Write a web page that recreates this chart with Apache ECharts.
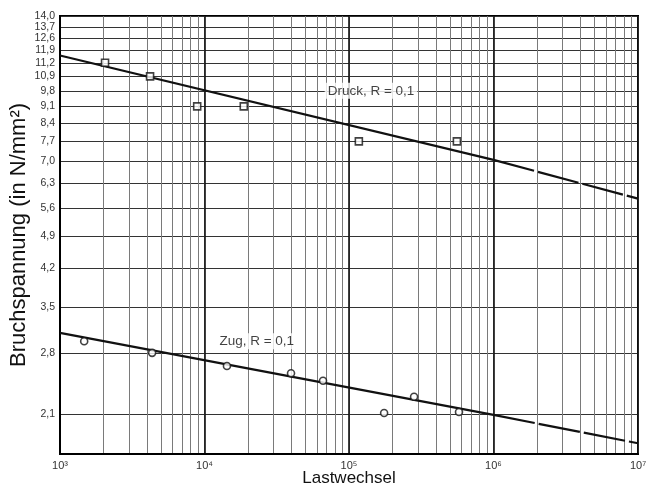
<!DOCTYPE html>
<html><head><meta charset="utf-8">
<script src="https://cdn.jsdelivr.net/npm/echarts@6/dist/echarts.min.js"></script>
<style>html,body{margin:0;padding:0;background:#fff}#c{width:648px;height:487px}</style>
</head><body><div id="c"></div>
<script>
// ---- data ----
const yTickValues = [2.1, 2.8, 3.5, 4.2, 4.9, 5.6, 6.3, 7.0, 7.7, 8.4, 9.1, 9.8, 10.5, 11.2, 11.9, 12.6, 13.3, 14.0];
const yTickLabels = ['2,1', '2,8', '3,5', '4,2', '4,9', '5,6', '6,3', '7,0', '7,7', '8,4', '9,1', '9,8', '10,9', '11,2', '11,9', '12,6', '13,7', '14,0'];
const xDecades = [1e3, 1e4, 1e5, 1e6, 1e7];
const xDecadeLabels = ['10³', '10⁴', '10⁵', '10⁶', '10⁷'];
const xMinorMultipliers = [1, 2, 3, 4, 5, 6, 7, 8, 9];

const druckN = [2050, 4200, 8900, 18700, 117000, 558000];
const druckS = [11.2, 10.5, 9.1, 9.1, 7.7, 7.7];
const zugN = [1470, 4340, 14300, 39700, 66100, 175000, 282000, 577000];
const zugS = [2.97, 2.81, 2.64, 2.55, 2.46, 2.11, 2.28, 2.12];

const druckFitN = [1e3, 1e6, 1e7];
const druckFitS = [11.6, 7.05, 5.86];
const zugFitN = [1e3, 1e6, 1e7];
const zugFitS = [3.09, 2.09, 1.826];

const druckLabel = 'Druck, R = 0,1';
const druckLabelPos = [1.42e5, 9.8];
const zugLabel = 'Zug, R = 0,1';
const zugLabelPos = [2.3e4, 2.97];

const xTitle = 'Lastwechsel';
const yTitle = 'Bruchspannung (in N/mm²)';
const xRange = [1e3, 1e7];
const yRange = [1.735, 14.0];

// ---- helpers (log10 coordinates) ----
const L = Math.log10;
const pts = (xs, ys) => xs.map((x, i) => [L(x), L(ys[i])]);
const minorTicks = [];
xDecades.slice(0, -1).forEach(d => xMinorMultipliers.forEach(m => minorTicks.push(L(m * d))));
minorTicks.push(L(xDecades[xDecades.length - 1]));
const yTicksLog = yTickValues.map(L);
const yEven = yTicksLog.filter((_, i) => i % 2 === 0);
const yOdd = yTicksLog.filter((_, i) => i % 2 === 1);
const fontFam = '"Liberation Sans", Arial, Helvetica, sans-serif';
const yFmt = v => yTickLabels[yTicksLog.findIndex(t => Math.abs(t - v) < 1e-6)] || '';
const yLabelStyle = {fontFamily: fontFam, fontSize: 10.5, color: '#333', margin: 5,
  showMinLabel: true, showMaxLabel: true, hideOverlap: false, formatter: yFmt};

const chart = echarts.init(document.getElementById('c'), null, {renderer: 'canvas'});
chart.setOption({
  animation: false,
  backgroundColor: '#fff',
  grid: {left: 60, right: 10, top: 16, bottom: 33, show: true, borderColor: '#000', borderWidth: 2,
    backgroundColor: 'transparent', containLabel: false, outerBoundsMode: 'none'},
  xAxis: [{
    type: 'value', min: L(xRange[0]), max: L(xRange[1]),
    name: xTitle, nameLocation: 'middle', nameGap: 16, nameMoveOverlap: false,
    nameTextStyle: {fontFamily: fontFam, fontSize: 17, color: '#111'},
    axisLine: {show: true, lineStyle: {color: '#000', width: 2}},
    axisTick: {show: false, customValues: minorTicks},
    axisLabel: {customValues: xDecades.map(L), fontFamily: fontFam, fontSize: 11, color: '#333', margin: 6,
      showMinLabel: true, showMaxLabel: true, hideOverlap: false,
      formatter: v => xDecadeLabels[xDecades.findIndex(d => Math.abs(L(d) - v) < 1e-6)] || ''},
    splitLine: {show: true, lineStyle: {color: '#7a7a7a', width: 1}}
  }, {
    type: 'value', min: L(xRange[0]), max: L(xRange[1]), position: 'top',
    axisLine: {show: false}, axisLabel: {show: false},
    axisTick: {show: false, customValues: xDecades.map(L)},
    splitLine: {show: true, lineStyle: {color: '#111', width: 1.6}}
  }],
  yAxis: [{
    type: 'value', min: L(yRange[0]), max: L(yRange[1]), position: 'left',
    name: yTitle, nameLocation: 'middle', nameGap: 30, nameMoveOverlap: false,
    nameTextStyle: {fontFamily: fontFam, fontSize: 22, color: '#111'},
    axisLine: {show: true, lineStyle: {color: '#000', width: 2}},
    axisTick: {show: false, customValues: yTicksLog},
    axisLabel: Object.assign({customValues: yEven}, yLabelStyle),
    splitLine: {show: true, lineStyle: {color: '#333', width: 1.2}}
  }, {
    type: 'value', min: L(yRange[0]), max: L(yRange[1]), position: 'left', offset: 0,
    axisLine: {show: false}, axisTick: {show: false},
    axisLabel: Object.assign({customValues: yOdd}, yLabelStyle),
    splitLine: {show: false}
  }],
  series: [
    {type: 'line', data: pts(druckFitN.slice(0, 2), druckFitS.slice(0, 2)), symbol: 'none', lineStyle: {color: '#111', width: 2.2}, z: 3},
    {type: 'line', data: pts(druckFitN.slice(1), druckFitS.slice(1)), symbol: 'none', lineStyle: {color: '#111', width: 2.2, type: [42, 4]}, z: 3},
    {type: 'line', data: pts(zugFitN.slice(0, 2), zugFitS.slice(0, 2)), symbol: 'none', lineStyle: {color: '#111', width: 2.2}, z: 3},
    {type: 'line', data: pts(zugFitN.slice(1), zugFitS.slice(1)), symbol: 'none', lineStyle: {color: '#111', width: 2.2, type: [42, 4]}, z: 3},
    {type: 'scatter', data: pts(druckN, druckS), symbol: 'rect', symbolSize: 7,
      itemStyle: {color: '#fff', borderColor: '#111', borderWidth: 1.6}, z: 4},
    {type: 'scatter', data: pts(zugN, zugS), symbol: 'circle', symbolSize: 7,
      itemStyle: {color: '#fff', borderColor: '#111', borderWidth: 1.6}, z: 4},
    {type: 'scatter', symbolSize: 0, z: 5, silent: true,
      data: [{value: [L(druckLabelPos[0]), L(druckLabelPos[1])], name: druckLabel},
             {value: [L(zugLabelPos[0]), L(zugLabelPos[1])], name: zugLabel}],
      label: {show: true, position: 'inside', formatter: p => p.name, fontFamily: fontFam, fontSize: 13.5,
        color: '#111', backgroundColor: '#fff', padding: [1, 3]}}
  ]
});
</script></body></html>
